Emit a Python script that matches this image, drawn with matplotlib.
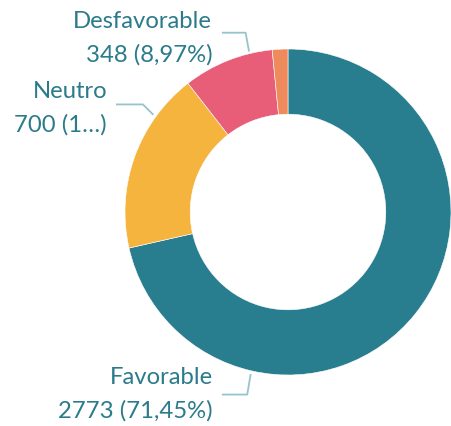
import matplotlib.pyplot as plt

# datos
categorias = ['Favorable', 'Neutro', 'Desfavorable', 'Otro']
valores = [2773, 700, 348, 60]
colores = ['#287d8e', '#f5b43e', '#e85e78', '#ef8a5c']
etiquetas = ['Favorable\n2773 (71,45%)', 'Neutro\n700 (1…)', 'Desfavorable\n348 (8,97%)', None]

# posiciones de las etiquetas (coords del eje, radio exterior = 1)
pos_texto = [(-0.46, -1.05), (-1.11, 0.707), (-0.465, 1.135), None]
lineas = [
    [(-0.40, -1.12), (-0.25, -1.12), (-0.23, -1.0)],
    [(-1.05, 0.66), (-0.89, 0.66), (-0.83, 0.6)],
    [(-0.40, 1.10), (-0.26, 1.10), (-0.24, 0.99)],
    None,
]

txt_color = '#2b7b8b'
line_color = '#96c4cc'

fig = plt.figure(figsize=(4.51, 4.27), dpi=100)
ax = fig.add_axes([125 / 451, 51 / 427, 326 / 451, 326 / 427])
ax.pie(valores, colors=colores, startangle=90, counterclock=False, radius=1,
       wedgeprops=dict(width=0.4, edgecolor='white', linewidth=0.4))
ax.set_xlim(-1, 1)
ax.set_ylim(-1, 1)
ax.set_aspect('auto')
ax.axis('off')

for lab, p, ln in zip(etiquetas, pos_texto, lineas):
    if lab is None:
        continue
    l1, l2 = lab.split('\n')
    ax.text(p[0], p[1], l1, ha='right', va='baseline', color=txt_color,
            fontsize=17.2, family='Lato', clip_on=False)
    ax.text(p[0], p[1] - 0.205, l2, ha='right', va='baseline', color=txt_color,
            fontsize=17.2, family='Lato', clip_on=False)
    xs, ys = zip(*ln)
    ax.plot(xs, ys, color=line_color, lw=1.3, clip_on=False)

fig.savefig('out.png', dpi=100)
